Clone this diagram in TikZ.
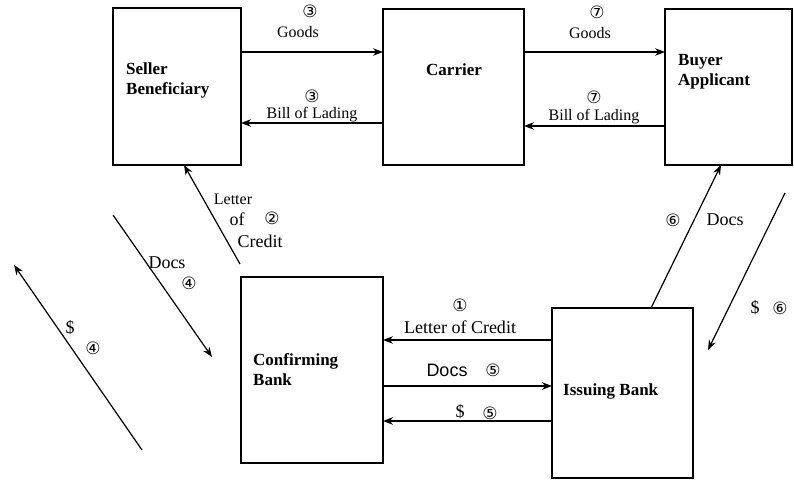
\documentclass[tikz,border=0pt]{standalone}
\usepackage{fontspec}
\setmainfont{Liberation Serif}
\newfontfamily\circfont{DejaVu Sans}
\newfontfamily\arialfont{Liberation Sans}
\usetikzlibrary{arrows.meta}
\tikzset{
  box/.style={draw, line width=1.4pt, inner sep=0pt, outer sep=0pt, anchor=north west},
  arr/.style={line width=1.2pt, -{Stealth[length=10pt,width=7.5pt]}},
  lbl/.style={inner sep=0pt, font=\fontsize{16}{16}\selectfont},
  big/.style={inner sep=0pt, font=\fontsize{18}{18}\selectfont},
  sans/.style={inner sep=0pt, font=\fontsize{18}{18}\arialfont},
  boldtxt/.style={inner sep=0pt, font=\fontsize{17}{20}\selectfont\bfseries, align=left, anchor=west},
  num/.style={inner sep=0pt, font=\fontsize{17}{17}\circfont},
}
\begin{document}
\begin{tikzpicture}[x=1pt,y=-1pt]
\useasboundingbox (0,0) rectangle (794,481);
% boxes
\node[box, minimum width=128pt, minimum height=157pt] (seller) at (113,8) {};
\node[box, minimum width=141pt, minimum height=156pt] (carrier) at (383,9) {};
\node[box, minimum width=127pt, minimum height=156pt] (buyer) at (665,9) {};
\node[box, minimum width=142pt, minimum height=186pt] (confirm) at (241,277) {};
\node[box, minimum width=141pt, minimum height=170pt] (issuing) at (552,308) {};
% box texts
\node[boldtxt] (tseller) at (126,80) {Seller\\Beneficiary};
\node[boldtxt] (tcarrier) at (426,70) {Carrier};
\node[boldtxt] (tbuyer) at (678,72) {Buyer\\Applicant};
\node[boldtxt] (tconfirm) at (253,370) {Confirming\\Bank};
\node[boldtxt] (tissuing) at (563,391) {Issuing Bank};
% top connectors
\draw[arr] (seller.east |- 0,52) -- (carrier.west |- 0,52);
\draw[arr] (carrier.west |- 0,123) -- (seller.east |- 0,123);
\draw[arr] (carrier.east |- 0,52) -- (buyer.west |- 0,52);
\draw[arr] (buyer.west |- 0,126) -- (carrier.east |- 0,126);
\node[num] (n3a) at (310,11) {③};
\node[lbl] (g1) at (298,32) {Goods};
\node[num] (n3b) at (312,96) {③};
\node[lbl] (b1) at (312,115) {Bill of Lading};
\node[num] (n7a) at (597,12) {⑦};
\node[lbl] (g2) at (590,33) {Goods};
\node[num] (n7b) at (594,97) {⑦};
\node[lbl] (b2) at (594,117) {Bill of Lading};
% bottom connectors
\draw[arr] (issuing.west |- 0,340) -- (confirm.east |- 0,340);
\draw[arr] (confirm.east |- 0,386) -- (issuing.west |- 0,386);
\draw[arr] (issuing.west |- 0,421) -- (confirm.east |- 0,421);
\node[num] (n1) at (460,305) {①};
\node[big] (loc) at (460,327) {Letter of Credit};
\node[sans] (d5) at (447,370) {Docs};
\node[num] (n5a) at (493,370) {⑤};
\node[big] (s5) at (460,412) {\$};
\node[num] (n5b) at (490,413) {⑤};
% diagonal: letter of credit 2
\coordinate (lc2) at (240,264);
\draw[arr] (lc2) -- (seller.south -| 184,0);
\node[lbl] (lt) at (233,199) {Letter};
\node[big] (lof) at (237,219) {of};
\node[num] (n2) at (272,218) {②};
\node[big] (lcr) at (260,241) {Credit};
% diagonal: docs 4
\coordinate (d4s) at (113,215);
\coordinate (d4e) at (212,357);
\draw[arr] (d4s) -- (d4e);
\node[big] (docs4) at (167,263) {Docs};
\node[num] (n4a) at (189,283) {④};
% diagonal: $ 4
\coordinate (s4s) at (142,450);
\coordinate (s4e) at (14,265);
\draw[arr] (s4s) -- (s4e);
\node[big] (dol4) at (70,328) {\$};
\node[num] (n4b) at (93,348) {④};
% diagonal: docs 6
\draw[arr] (issuing.north -| 651,0) -- (buyer.south -| 721,0);
\node[big] (docs6) at (725,220) {Docs};
\node[num] (n6a) at (673,220) {⑥};
% diagonal: $ 6
\coordinate (s6s) at (785,193);
\coordinate (s6e) at (708,350);
\draw[arr] (s6s) -- (s6e);
\node[big] (dol6) at (755,308) {\$};
\node[num] (n6b) at (780,308) {⑥};
\end{tikzpicture}
\end{document}
